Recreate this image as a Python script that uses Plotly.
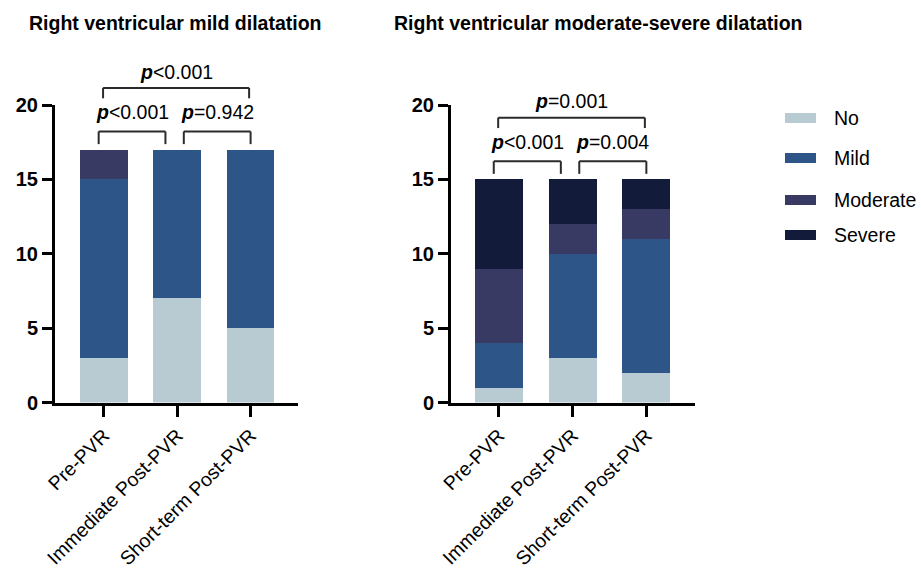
import plotly.graph_objects as go

W, H = 921, 573
FONT = "Liberation Sans, Arial, Helvetica, sans-serif"

categories = ["Pre-PVR", "Immediate Post-PVR", "Short-term Post-PVR"]
grades = ["No", "Mild", "Moderate", "Severe"]
grade_colors = ["#B8CBD3", "#2D5587", "#393A63", "#131B3A"]

# Panel 1: right ventricular mild dilatation
mild_no = [3, 7, 5]
mild_mild = [12, 10, 12]
mild_moderate = [2, 0, 0]
mild_severe = [0, 0, 0]

# Panel 2: right ventricular moderate-severe dilatation
ms_no = [1, 3, 2]
ms_mild = [3, 7, 9]
ms_moderate = [5, 2, 2]
ms_severe = [6, 3, 2]

pairs = [(0, 1), (1, 2), (0, 2)]
mild_pvalues = ["&lt;0.001", "=0.942", "&lt;0.001"]
ms_pvalues = ["&lt;0.001", "=0.004", "=0.001"]

titles = ["Right ventricular mild dilatation",
          "Right ventricular moderate-severe dilatation"]

y_ticks = [0, 5, 10, 15, 20]

# ---------------- layout constants ----------------
def px_x(p):
    return p / W

def px_y(p):
    return 1 - p / H

Y_DOM = [px_y(402.5), px_y(105)]
X_DOMS = [[px_x(55), px_x(298)], [px_x(451), px_x(695)]]
X_RANGES = [[-0.665, 2.646], [-0.65, 2.66]]
Y_MAX = 20

def yp(v):
    return Y_DOM[0] + v / Y_MAX * (Y_DOM[1] - Y_DOM[0])

fig = go.Figure()

panels = [
    ([mild_no, mild_mild, mild_moderate, mild_severe], mild_pvalues),
    ([ms_no, ms_mild, ms_moderate, ms_severe], ms_pvalues),
]

# bracket geometry (offsets relative to max stacked total, in data units)
bracket_x_inset = [(-0.07, -0.16), (0.09, 0.0), (-0.01, -0.02)]
bracket_line = [1.22, 1.22, 4.15]
bracket_leg = [0.37, 0.37, 3.45]
bracket_text = [2.5, 2.5, 5.25]

for i, (series, pvals) in enumerate(panels):
    xa = "x" if i == 0 else "x2"
    ya = "y" if i == 0 else "y2"
    for g, vals, col in zip(grades, series, grade_colors):
        fig.add_trace(go.Bar(
            x=categories, y=vals, name=g, marker=dict(color=col, line=dict(width=0)),
            width=0.65, xaxis=xa, yaxis=ya, showlegend=False,
        ))
    totals = [sum(v) for v in zip(*series)]
    top = max(totals)
    for k, ((a, b), pv) in enumerate(zip(pairs, pvals)):
        x0 = a + bracket_x_inset[k][0]
        x1 = b + bracket_x_inset[k][1]
        yl = yp(top + bracket_line[k])
        yg = yp(top + bracket_leg[k])
        for (sx0, sy0, sx1, sy1) in [(x0, yg, x0, yl), (x0, yl, x1, yl), (x1, yl, x1, yg)]:
            fig.add_shape(type="line", xref=xa, yref="paper",
                          x0=sx0, y0=sy0, x1=sx1, y1=sy1,
                          line=dict(color="#2b2b2b", width=2))
        fig.add_annotation(xref=xa, yref="paper", x=(x0 + x1) / 2,
                           y=yp(top + bracket_text[k]),
                           text="<b><i>p</i></b>" + pv, showarrow=False,
                           font=dict(family=FONT, size=19.5, color="black"),
                           xanchor="center", yanchor="middle")

# titles
title_x = [px_x(175), px_x(598)]
for t, tx in zip(titles, title_x):
    fig.add_annotation(xref="paper", yref="paper", x=tx, y=px_y(23),
                       text="<b>" + t + "</b>", showarrow=False,
                       font=dict(family=FONT, size=19.5, color="black"),
                       xanchor="center", yanchor="middle")

# manual legend
legend_rows_px = [118, 158, 200, 235]
for g, col, ry in zip(grades, grade_colors, legend_rows_px):
    fig.add_shape(type="rect", xref="paper", yref="paper",
                  x0=px_x(785), x1=px_x(816), y0=px_y(ry + 5), y1=px_y(ry - 5),
                  fillcolor=col, line=dict(width=0))
    fig.add_annotation(xref="paper", yref="paper", x=px_x(832), y=px_y(ry),
                       text=g, showarrow=False,
                       font=dict(family=FONT, size=19.5, color="black"),
                       xanchor="left", yanchor="middle")

axis_common = dict(showline=True, linewidth=3, linecolor="black",
                   ticks="outside", tickwidth=3, tickcolor="black",
                   showgrid=False, zeroline=False, automargin=False)

fig.update_layout(
    width=W, height=H, margin=dict(l=0, r=0, t=0, b=0),
    paper_bgcolor="white", plot_bgcolor="white", barmode="stack",
    bargap=0.35,
    xaxis=dict(domain=X_DOMS[0], range=X_RANGES[0], type="category", anchor="y",
               tickangle=-45, ticklen=11,
               tickfont=dict(family=FONT, size=19.5, color="black"), **axis_common),
    yaxis=dict(domain=Y_DOM, range=[0, Y_MAX], anchor="x", tickvals=y_ticks, ticklen=10,
               tickfont=dict(family=FONT, size=20, color="black", weight="bold"),
               **axis_common),
    xaxis2=dict(domain=X_DOMS[1], range=X_RANGES[1], type="category", anchor="y2",
                tickangle=-45, ticklen=11,
                tickfont=dict(family=FONT, size=19.5, color="black"), **axis_common),
    yaxis2=dict(domain=Y_DOM, range=[0, Y_MAX], anchor="x2", tickvals=y_ticks, ticklen=10,
                tickfont=dict(family=FONT, size=20, color="black", weight="bold"),
                **axis_common),
    showlegend=False,
)

fig.write_html("out.html")
